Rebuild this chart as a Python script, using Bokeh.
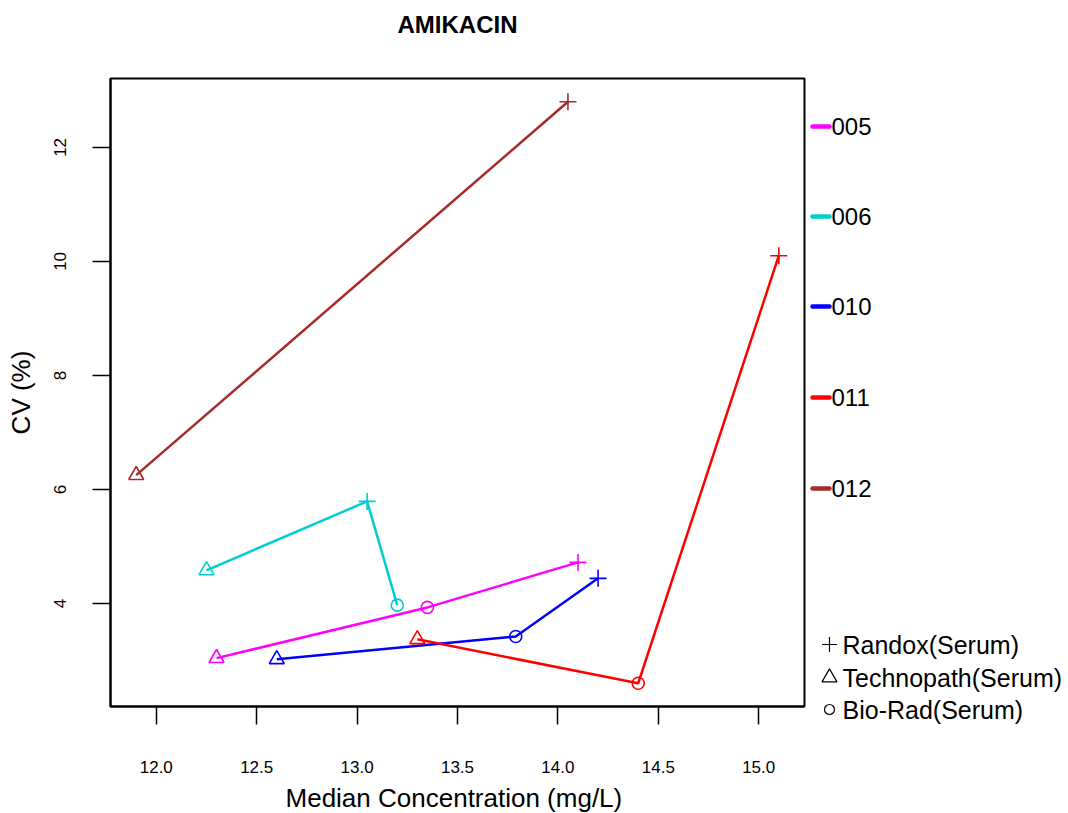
from bokeh.plotting import figure
from bokeh.models import Range1d, FixedTicker, CustomJSTickFormatter
from bokeh.core.properties import value
from bokeh.embed import file_html
from bokeh.resources import INLINE
import math

# Amikacin: CV (%) against median concentration per lab, by control material
labs = ["005", "006", "010", "011", "012"]
lab_colors = ["#FF00FF", "#00CDCD", "#0000FF", "#FF0000", "#A52A2A"]

randox_x = [14.10, 13.05, 14.20, 15.10, 14.05]
randox_y = [4.72, 5.79, 4.44, 10.10, 12.80]
techno_x = [12.30, 12.25, 12.60, 13.30, 11.90]
techno_y = [3.04, 4.58, 3.02, 3.37, 6.25]
biorad_x = [13.35, 13.20, 13.79, 14.40, float("nan")]
biorad_y = [3.93, 3.97, 3.42, 2.60, float("nan")]

materials = ["Randox(Serum)", "Technopath(Serum)", "Bio-Rad(Serum)"]
material_markers = ["cross", "triangle", "circle"]

x_ticks = [12.0, 12.5, 13.0, 13.5, 14.0, 14.5, 15.0]
y_ticks = [4, 6, 8, 10, 12]

FONT = "Liberation Sans"
PAGE_W, PAGE_H = 1068, 813
HEAD_H = 74                      # strip holding the title
FRAME_W, FRAME_H = 694, 628
LEFT, RIGHT, TOP, BOTTOM = 110, 4, 4, 107
MAIN_W = LEFT + FRAME_W + RIGHT
MAIN_H = TOP + FRAME_H + BOTTOM


def padded(lo, hi, frac=0.04):
    span = hi - lo
    return lo - frac * span, hi + frac * span


def blank(fig):
    fig.outline_line_color = None
    fig.xgrid.visible = False
    fig.ygrid.visible = False
    fig.background_fill_color = "white"
    fig.border_fill_color = "white"


all_x = [v for v in randox_x + techno_x + biorad_x if not math.isnan(v)]
all_y = [v for v in randox_y + techno_y + biorad_y if not math.isnan(v)]
x0, x1 = padded(min(all_x), max(all_x))
y0, y1 = padded(min(all_y), max(all_y))

# ---- title strip (page-pixel coordinates) ----
head = figure(width=PAGE_W, height=HEAD_H, x_range=Range1d(0, PAGE_W), y_range=Range1d(HEAD_H, 0),
              output_backend="svg", toolbar_location=None,
              x_axis_type=None, y_axis_type=None, min_border=0)
blank(head)
head.text(x=[LEFT + FRAME_W / 2], y=[24], text=["AMIKACIN"], text_align="center",
          text_baseline="middle", text_font=value(FONT), text_font_size="24px",
          text_font_style="bold", text_color="black")

# ---- main scatter/line plot ----
p = figure(
    frame_width=FRAME_W, frame_height=FRAME_H,
    x_range=Range1d(x0, x1), y_range=Range1d(y0, y1),
    output_backend="svg", toolbar_location=None,
    min_border_left=LEFT, min_border_right=RIGHT,
    min_border_top=TOP, min_border_bottom=BOTTOM,
)
p.background_fill_color = "white"
p.border_fill_color = "white"
p.outline_line_color = "black"
p.outline_line_width = 2
p.xgrid.visible = False
p.ygrid.visible = False

for ax in (p.xaxis[0], p.yaxis[0]):
    ax.axis_line_color = "black"
    ax.axis_line_width = 2
    ax.major_tick_line_color = "black"
    ax.major_tick_line_width = 1.5
    ax.major_tick_out = 18
    ax.major_tick_in = 0
    ax.minor_tick_line_color = None
    ax.major_label_text_font = FONT
    ax.major_label_text_font_size = "17px"
    ax.major_label_text_color = "black"
    ax.axis_label_text_font = FONT
    ax.axis_label_text_font_size = "26px"
    ax.axis_label_text_font_style = "normal"
    ax.axis_label_text_color = "black"

p.xaxis.ticker = FixedTicker(ticks=x_ticks)
p.xaxis.formatter = CustomJSTickFormatter(code="return tick.toFixed(1);")
p.xaxis.major_label_standoff = 36
p.xaxis.axis_label = "Median Concentration  (mg/L)"
p.xaxis.axis_label_standoff = 7

p.yaxis.ticker = FixedTicker(ticks=y_ticks)
p.yaxis.major_label_orientation = "vertical"
p.yaxis.major_label_standoff = 26
p.yaxis.axis_label = "CV (%)"
p.yaxis.axis_label_standoff = 16

# one polyline per lab through its materials, ordered by concentration
for i, lab in enumerate(labs):
    pts = [(randox_x[i], randox_y[i]), (techno_x[i], techno_y[i]), (biorad_x[i], biorad_y[i])]
    pts = sorted([q for q in pts if not math.isnan(q[0])])
    p.line([q[0] for q in pts], [q[1] for q in pts], line_color=lab_colors[i], line_width=2.5)

marker_sizes = {"cross": 17, "triangle": 15, "circle": 12}
series = [(randox_x, randox_y), (techno_x, techno_y), (biorad_x, biorad_y)]
for (xs, ys), mk in zip(series, material_markers):
    keep = [j for j in range(len(labs)) if not math.isnan(xs[j])]
    p.scatter([xs[j] for j in keep], [ys[j] for j in keep], marker=mk,
              size=marker_sizes[mk], fill_color=None,
              line_color=[lab_colors[j] for j in keep], line_width=1.6)

# ---- legend column to the right (page-pixel coordinates) ----
leg_w = PAGE_W - MAIN_W
leg = figure(width=leg_w, height=MAIN_H, x_range=Range1d(MAIN_W, PAGE_W),
             y_range=Range1d(PAGE_H, HEAD_H),
             output_backend="svg", toolbar_location=None,
             x_axis_type=None, y_axis_type=None, min_border=0)
blank(leg)

lab_rows = [126, 216, 306, 397, 488]
leg.segment(x0=[812] * len(labs), y0=lab_rows, x1=[829] * len(labs), y1=lab_rows,
            line_color=lab_colors, line_width=4.5, line_cap="round")
leg.text(x=[831] * len(labs), y=lab_rows, text=labs, text_font_size="24px",
         text_baseline="middle", text_align="left", text_color="black",
         text_font=value(FONT))

mat_rows = [644, 677, 709]
mat_sizes = [15, 15, 10]
for mk, yy, sz in zip(material_markers, mat_rows, mat_sizes):
    leg.scatter([829], [yy], marker=mk, size=sz, fill_color=None, line_color="black", line_width=1.2)
leg.text(x=[842] * 3, y=mat_rows, text=materials, text_font_size="25px",
         text_baseline="middle", text_align="left", text_color="black",
         text_font=value(FONT))

html = file_html([head, p, leg], INLINE, title="AMIKACIN")
page_css = ("<style>html,body{margin:0;padding:0;}"
            "body{display:flex;flex-wrap:wrap;align-items:flex-start;width:%dpx;}</style>" % PAGE_W)
html = html.replace("</head>", page_css + "</head>", 1)
open("out.html", "w").write(html)
